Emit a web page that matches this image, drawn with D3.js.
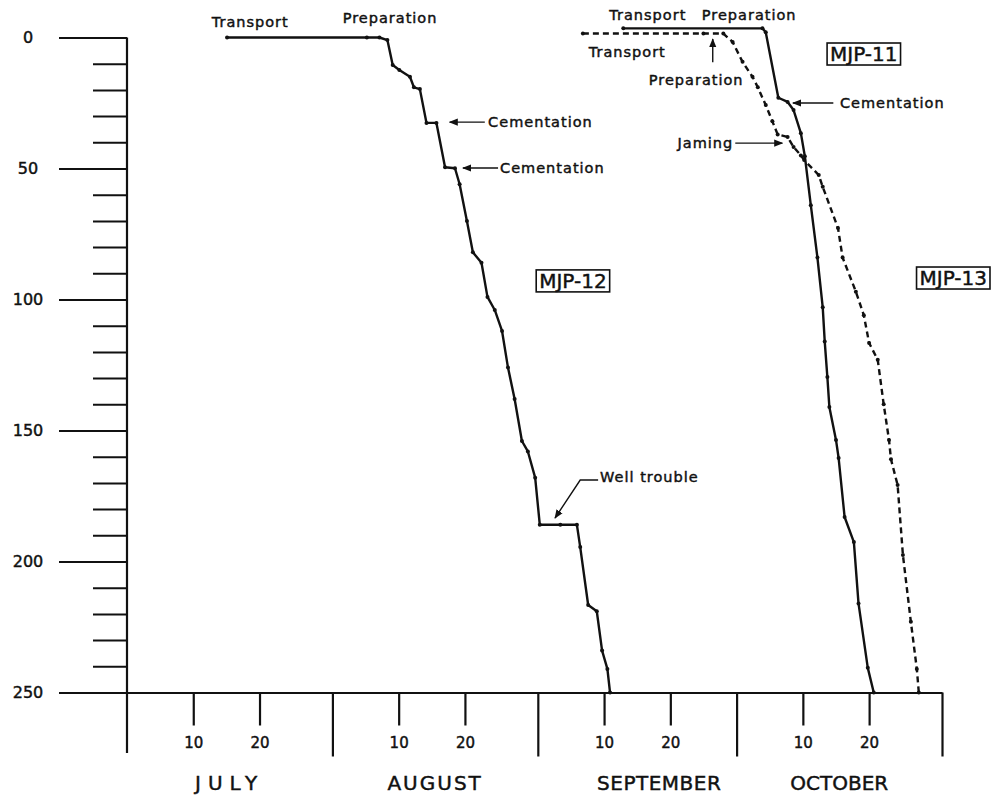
<!DOCTYPE html>
<html>
<head>
<meta charset="utf-8">
<script src="https://cdn.jsdelivr.net/npm/d3@7"></script>
<style>
  body { margin: 0; background: #fff; }
  svg { display: block; }
  text { font-family: "DejaVu Sans", sans-serif; fill: #111; stroke: #111; stroke-width: 0.45px; }
</style>
</head>
<body>
<svg id="chart" width="995" height="798"></svg>
<script>
// ---- Calendar (days counted from 1 July) ----
const months = ["JULY", "AUGUST", "SEPTEMBER", "OCTOBER"];
const monthDays = [31, 31, 30, 31];
const dayTickLabels = [10, 20];

// ---- Depth axis ----
const depthMajor = [0, 50, 100, 150, 200, 250];
const depthStep = 10;

// ---- Drilling progress: MJP-12 (solid) ----
const mjp12Day   = [15.1, 36.2, 38.1, 39.3, 40.1, 41.1, 42.7, 43.3, 44.2, 45.2, 46.7, 48.0, 49.5, 50.2, 51.3, 52.2, 53.5, 54.4, 55.5, 56.6, 57.5, 58.5, 59.6, 60.5, 61.6, 62.3, 65.4, 67.9, 68.4, 69.6, 70.9, 71.7, 72.5, 72.9];
const mjp12Depth = [0, 0, 0, 1, 10.5, 12.4, 15, 19, 19.7, 32.6, 32.6, 49.5, 49.9, 56, 70, 82, 86, 99, 104, 112, 126, 138, 154, 158, 168, 186, 186, 186, 194.5, 216.6, 219, 234, 241, 250];

// ---- MJP-11 (solid) ----
const mjp11Day   = [74.9, 95.9, 96.4, 98.3, 99.7, 100.6, 101.7, 102.3, 103.2, 104.2, 105.0, 105.3, 105.7, 106.0, 107.0, 107.4, 108.3, 109.7, 110.4, 111.8, 112.7];
const mjp11Depth = [-3.5, -3.5, -2, 23, 24.6, 27.7, 36.5, 45.3, 64, 84, 103, 116, 129.6, 141, 153.6, 160.5, 183, 192.6, 216, 240.6, 250];

// ---- MJP-13 (dashed) ----
const mjp13Day   = [68.8, 87.0, 90.0, 91.4, 92.9, 94.4, 95.2, 96.4, 97.4, 98.2, 99.7, 100.6, 101.7, 102.2, 104.4, 105.0, 107.3, 108.0, 110.0, 111.2, 112.0, 113.3, 114.2, 115.0, 115.3, 116.3, 117.1, 118.3, 119.2, 119.5];
const mjp13Depth = [-1.5, -1.5, -1.5, 1.7, 9.3, 15, 19, 25.8, 32, 37, 38, 41.8, 45, 46.8, 52.5, 57, 72.7, 84, 97, 106, 116.6, 123, 140, 153.6, 161, 170.8, 197.5, 223, 241, 250];

// ---- Layout ----
const svg = d3.select("#chart");
const monthStarts = Array.from(d3.cumsum([0].concat(monthDays.slice(0, -1))));
const totalDays = d3.sum(monthDays);

const x = d3.scaleLinear().domain([0, totalDays]).range([127, 942]);
const y = d3.scaleLinear().domain([0, 250]).range([37.5, 692.5]);

const ink = "#111";
const font = "\"DejaVu Sans\", sans-serif";

// arrowhead marker
const defs = svg.append("defs");
defs.append("marker")
  .attr("id", "arrow")
  .attr("viewBox", "0 0 10 10")
  .attr("refX", 9).attr("refY", 5)
  .attr("markerWidth", 9).attr("markerHeight", 9)
  .attr("markerUnits", "userSpaceOnUse")
  .attr("orient", "auto")
  .append("path").attr("d", "M0,1 L10,5 L0,9 Z").attr("fill", ink);

// ---- Depth axis (left) ----
const minorDepth = d3.range(0, 251, depthStep).filter(d => d % 50 !== 0);
svg.append("g").attr("transform", `translate(${x(0)},0)`)
  .call(d3.axisLeft(y).tickValues(minorDepth).tickSize(34).tickFormat(""))
  .call(g => g.select(".domain").remove())
  .call(g => g.selectAll("line").attr("stroke", ink).attr("stroke-width", 2));

const yMajor = svg.append("g").attr("transform", `translate(${x(0)},0)`)
  .call(d3.axisLeft(y).tickValues(depthMajor).tickSize(68).tickFormat(d3.format("d")))
  .call(g => g.select(".domain").remove())
  .call(g => g.selectAll("line").attr("stroke", ink).attr("stroke-width", 2));
yMajor.selectAll("text")
  .attr("x", -(x(0) - 28)).attr("text-anchor", "middle")
  .attr("font-size", 16).attr("fill", ink)
  .style("font-family", font);

// vertical axis line, extending below the time axis
svg.append("line")
  .attr("x1", x(0)).attr("x2", x(0))
  .attr("y1", y(0)).attr("y2", 753)
  .attr("stroke", ink).attr("stroke-width", 2.2);

// ---- Time axis (bottom) ----
const boundaries = monthStarts.concat([totalDays]);
const xMajor = svg.append("g").attr("transform", `translate(0,${y(250)})`)
  .call(d3.axisBottom(x).tickValues(boundaries.slice(1)).tickSize(64).tickSizeOuter(0).tickFormat(""));
xMajor.select(".domain").attr("stroke", ink).attr("stroke-width", 2.2);
xMajor.selectAll("line").attr("stroke", ink).attr("stroke-width", 2.2);

const minorDays = monthStarts.flatMap(s => dayTickLabels.map(d => s + d));
const xMinor = svg.append("g").attr("transform", `translate(0,${y(250)})`)
  .call(d3.axisBottom(x).tickValues(minorDays).tickSize(33).tickPadding(12)
    .tickFormat(d => String(dayTickLabels[minorDays.indexOf(d) % dayTickLabels.length])));
xMinor.select(".domain").remove();
xMinor.selectAll("line").attr("stroke", ink).attr("stroke-width", 2.2);
xMinor.selectAll("text").attr("font-size", 15).attr("fill", ink)
  .style("font-family", font);

// month names
const monthStyle = { JULY: { ls: 7, dx: 0 }, AUGUST: { ls: 2, dx: 0 }, SEPTEMBER: { ls: 0.5, dx: 22 }, OCTOBER: { ls: 0, dx: 0 } };
svg.append("g").selectAll("text").data(months).join("text")
  .attr("x", (m, i) => x(monthStarts[i] + monthDays[i] / 2) + monthStyle[m].dx)
  .attr("y", 790)
  .attr("text-anchor", "middle")
  .attr("font-size", 20)
  .attr("letter-spacing", m => monthStyle[m].ls)
  .text(m => m);

// ---- Progress curves ----
const line = d3.line().x(d => x(d[0])).y(d => y(d[1]));
const series = [
  { name: "MJP-12", pts: d3.zip(mjp12Day, mjp12Depth), dash: null },
  { name: "MJP-11", pts: d3.zip(mjp11Day, mjp11Depth), dash: null },
  { name: "MJP-13", pts: d3.zip(mjp13Day, mjp13Depth), dash: "6,4" }
];
series.forEach(s => {
  svg.append("path")
    .attr("d", line(s.pts))
    .attr("fill", "none")
    .attr("stroke", ink)
    .attr("stroke-width", 2.4)
    .attr("stroke-linejoin", "round")
    .attr("stroke-dasharray", s.dash);
  svg.append("g").selectAll("circle").data(s.pts).join("circle")
    .attr("cx", d => x(d[0])).attr("cy", d => y(d[1]))
    .attr("r", 2).attr("fill", ink);
});

// ---- Well names in boxes ----
const wellLabels = [
  { text: "MJP-12", day: 67.3, depth: 92.9 },
  { text: "MJP-11", day: 111.2, depth: 6.3 },
  { text: "MJP-13", day: 124.7, depth: 91.8 }
];
const wellG = svg.append("g");
wellLabels.forEach(w => {
  const t = wellG.append("text")
    .attr("x", x(w.day)).attr("y", y(w.depth))
    .attr("text-anchor", "middle").attr("dominant-baseline", "central")
    .attr("font-size", 20)
    .text(w.text);
  const b = t.node().getBBox();
  wellG.append("rect")
    .attr("x", b.x - 3).attr("y", b.y + 1).attr("width", b.width + 6).attr("height", b.height - 2)
    .attr("fill", "none").attr("stroke", ink).attr("stroke-width", 1.6);
});

// ---- Event notes ----
const notes = [
  { text: "Transport",   day: 18.6,  depth: -5.9, anchor: "middle" },
  { text: "Preparation", day: 39.7,  depth: -7.4, anchor: "middle" },
  { text: "Cementation", day: 54.5,  depth: 32.3, anchor: "start" },
  { text: "Cementation", day: 56.3,  depth: 49.8, anchor: "start" },
  { text: "Well trouble", day: 71.4, depth: 167.7, anchor: "start" },
  { text: "Transport",   day: 78.6,  depth: -8.6, anchor: "middle" },
  { text: "Preparation", day: 93.9,  depth: -8.6, anchor: "middle" },
  { text: "Transport",   day: 75.5,  depth: 5.5,  anchor: "middle" },
  { text: "Preparation", day: 85.9,  depth: 16.2, anchor: "middle" },
  { text: "Cementation", day: 107.6, depth: 25.0, anchor: "start" },
  { text: "Jaming",      day: 91.5,  depth: 40.3, anchor: "end" }
];
svg.append("g").selectAll("text").data(notes).join("text")
  .attr("x", d => x(d.day)).attr("y", d => y(d.depth))
  .attr("text-anchor", d => d.anchor)
  .attr("dominant-baseline", "central")
  .attr("font-size", 14.5)
  .attr("letter-spacing", 1)
  .text(d => d.text);

// pointer arrows (day, depth pairs; arrowhead at the last point)
const pointers = [
  [[54.0, 32.3], [48.7, 32.3]],
  [[56.0, 49.8], [50.7, 49.8]],
  [[71.1, 168.9], [68.4, 168.9], [64.6, 183.4]],
  [[88.4, 9.4], [88.4, 0.6]],
  [[106.6, 25.0], [100.5, 25.0]],
  [[91.8, 40.3], [98.9, 40.3]]
];
pointers.forEach(p => {
  svg.append("path")
    .attr("d", line(p))
    .attr("fill", "none").attr("stroke", ink).attr("stroke-width", 1.4)
    .attr("marker-end", "url(#arrow)");
});
</script>
</body>
</html>
